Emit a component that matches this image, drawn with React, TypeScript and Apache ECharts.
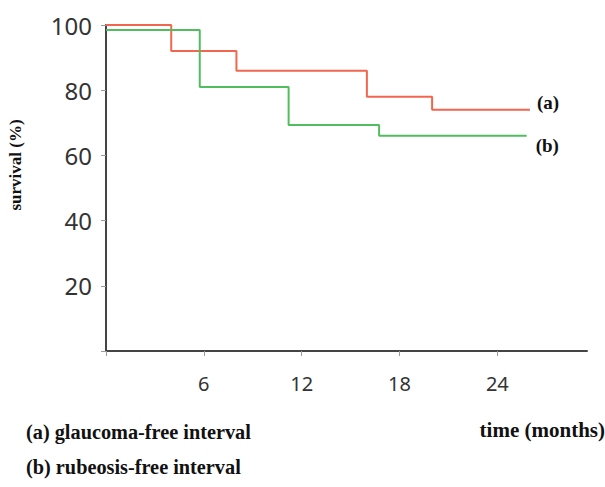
import React, { useEffect, useRef } from "react";
import * as echarts from "echarts";

// (a) glaucoma-free interval: [months, survival %]
const glaucomaMonths = [0, 4, 8, 16, 20, 26];
const glaucomaSurvival = [100, 92, 86, 78, 74, 74];
// (b) rubeosis-free interval
const rubeosisMonths = [0, 5.75, 11.2, 16.75, 25.8];
const rubeosisSurvival = [98.5, 81, 69.3, 66, 66];

const xTicks = [0, 6, 12, 18, 24];
const yTicks = [0, 20, 40, 60, 80, 100];

const seriesNames = ["(a)", "(b)"];
const legendTexts = ["(a) glaucoma-free interval", "(b) rubeosis-free interval"];
const xAxisTitle = "time (months)";
const yAxisTitle = "survival (%)";

const zip = (xs: number[], ys: number[]) => xs.map((x, i) => [x, ys[i]]);

export default function App() {
  const ref = useRef<HTMLDivElement>(null);
  useEffect(() => {
    document.body.style.margin = "0";
    if (!ref.current) return;
    const chart = echarts.init(ref.current, null, { renderer: "svg" });
    const serif = "'Liberation Serif', 'Times New Roman', serif";
    const sans = "'Noto Sans', sans-serif";
    const lastX = xTicks[xTicks.length - 1];
    chart.setOption({
      animation: false,
      backgroundColor: "#ffffff",
      grid: { left: 106, top: 25, right: 18, bottom: 136 },
      xAxis: {
        type: "value",
        min: 0,
        max: 29.5,
        interval: 6,
        axisLine: { show: true, lineStyle: { color: "#444", width: 2 } },
        axisTick: {
          show: true,
          length: 5,
          customValues: xTicks,
          lineStyle: { color: "#999", width: 1 },
        },
        axisLabel: {
          formatter: (v: number) => (v === 0 || v > lastX ? "" : String(v)),
          margin: 22,
          fontFamily: sans,
          fontSize: 20,
          color: "#333",
        },
        splitLine: { show: false },
      },
      yAxis: {
        type: "value",
        min: 0,
        max: 100,
        interval: 20,
        axisLine: { show: true, lineStyle: { color: "#444", width: 2 } },
        axisTick: {
          show: true,
          length: 5,
          lineStyle: { color: "#999", width: 1 },
        },
        axisLabel: {
          formatter: (v: number) => (v === 0 ? "" : String(v)),
          margin: 14,
          fontFamily: sans,
          fontSize: 24,
          color: "#333",
        },
        splitLine: { show: false },
      },
      series: [
        {
          name: seriesNames[0],
          type: "line",
          step: "end",
          symbol: "none",
          data: zip(glaucomaMonths, glaucomaSurvival),
          lineStyle: { color: "#f2664f", width: 2 },
          endLabel: {
            show: true,
            formatter: seriesNames[0],
            distance: 7,
            offset: [0, -7],
            fontFamily: serif,
            fontWeight: "bold",
            fontSize: 19,
            color: "#111",
          },
        },
        {
          name: seriesNames[1],
          type: "line",
          step: "end",
          symbol: "none",
          data: zip(rubeosisMonths, rubeosisSurvival),
          lineStyle: { color: "#52bd5f", width: 2 },
          endLabel: {
            show: true,
            formatter: seriesNames[1],
            distance: 9,
            offset: [0, 10],
            fontFamily: serif,
            fontWeight: "bold",
            fontSize: 19,
            color: "#111",
          },
        },
      ],
      graphic: [
        {
          type: "text",
          x: 15,
          y: 165,
          rotation: Math.PI / 2,
          style: {
            text: yAxisTitle,
            fontFamily: serif,
            fontWeight: "bold",
            fontSize: 17,
            fill: "#111",
            align: "center",
            verticalAlign: "middle",
          },
        },
        {
          type: "text",
          x: 26,
          y: 432,
          style: {
            text: legendTexts[0],
            fontFamily: serif,
            fontWeight: "bold",
            fontSize: 20.3,
            fill: "#111",
            align: "left",
            verticalAlign: "middle",
          },
        },
        {
          type: "text",
          x: 26,
          y: 467,
          style: {
            text: legendTexts[1],
            fontFamily: serif,
            fontWeight: "bold",
            fontSize: 20.3,
            fill: "#111",
            align: "left",
            verticalAlign: "middle",
          },
        },
        {
          type: "text",
          x: 605,
          y: 430,
          style: {
            text: xAxisTitle,
            fontFamily: serif,
            fontWeight: "bold",
            fontSize: 21,
            fill: "#111",
            align: "right",
            verticalAlign: "middle",
          },
        },
      ],
    });
    return () => chart.dispose();
  }, []);
  return <div ref={ref} style={{ width: 605, height: 487 }} />;
}
